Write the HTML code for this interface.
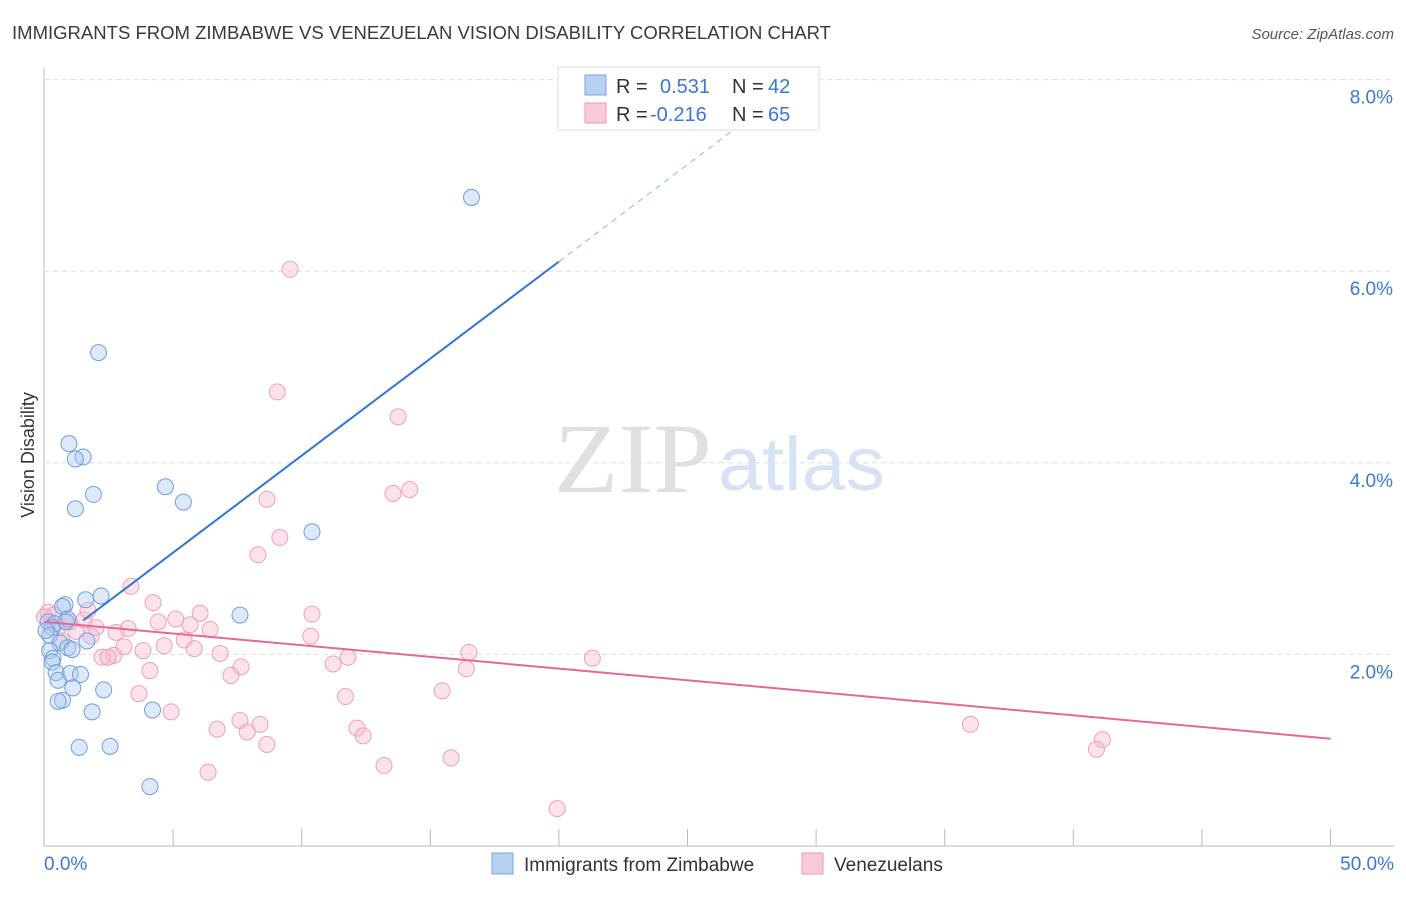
<!DOCTYPE html>
<html><head><meta charset="utf-8"><style>
body{margin:0;background:#fff;font-family:"Liberation Sans",sans-serif;}
svg text{font-family:"Liberation Sans",sans-serif;}
</style></head><body>
<svg id="c" width="1406" height="892" xmlns="http://www.w3.org/2000/svg">
<text x="12" y="39" font-size="18" fill="#3a3a3a" textLength="819" lengthAdjust="spacingAndGlyphs">IMMIGRANTS FROM ZIMBABWE VS VENEZUELAN VISION DISABILITY CORRELATION CHART</text>
<text x="1394" y="39" font-size="15" fill="#555" font-style="italic" text-anchor="end">Source: ZipAtlas.com</text>
<text x="712" y="492" font-size="100" fill="#e0e0e0" style="font-family:'Liberation Serif',serif" text-anchor="end" textLength="158" lengthAdjust="spacingAndGlyphs">ZIP</text>
<text x="718" y="490" font-size="76" fill="#d6e3f5" textLength="167" lengthAdjust="spacingAndGlyphs">atlas</text>
<text x="34" y="455" font-size="18" fill="#333" transform="rotate(-90 34 455)" text-anchor="middle">Vision Disability</text>
<g id="grid"></g><g id="pts"></g><g id="lines"></g>
<g>
<rect x="558" y="67" width="261" height="63" fill="#fff" stroke="#ddd"/>
<rect x="585" y="75" width="21" height="20" fill="#b7d1f3" stroke="#7aa7e0"/>
<rect x="585" y="103" width="21" height="20" fill="#fac9d7" stroke="#ee9ab3"/>
<text x="616" y="93" font-size="20" fill="#333">R =</text><text x="660" y="93" font-size="20" fill="#3b78d6">0.531</text>
<text x="732" y="93" font-size="20" fill="#333">N =</text><text x="768" y="93" font-size="20" fill="#3b78d6">42</text>
<text x="616" y="121" font-size="20" fill="#333">R =</text><text x="650" y="121" font-size="20" fill="#3b78d6">-0.216</text>
<text x="732" y="121" font-size="20" fill="#333">N =</text><text x="768" y="121" font-size="20" fill="#3b78d6">65</text>
</g>
<g>
<rect x="492" y="853" width="21" height="21" fill="#b7d1f3" stroke="#7aa7e0"/>
<text x="524" y="871" font-size="19" fill="#333">Immigrants from Zimbabwe</text>
<rect x="802" y="853" width="21" height="21" fill="#fac9d7" stroke="#ee9ab3"/>
<text x="834" y="871" font-size="19" fill="#333">Venezuelans</text>
</g>
</svg>
<script>
const yTicks=[2,4,6,8];
const xTickLabels=["0.0%","50.0%"];
const blueX=[16.6,2.1,0.95,1.5,1.2,1.9,4.7,5.4,1.2,10.4,2.2,1.6,0.8,0.7,7.6,0.9,0.14,0.4,0.3,0.2,1.65,0.6,0.9,1.07,0.2,0.33,0.3,0.45,1.0,1.4,0.53,1.1,2.3,0.7,0.53,1.85,4.2,1.35,2.55,4.1,0.06,0.84];
const blueY=[6.77,5.15,4.2,4.06,4.04,3.67,3.75,3.59,3.52,3.28,2.61,2.57,2.52,2.5,2.41,2.37,2.34,2.32,2.28,2.2,2.14,2.12,2.07,2.05,2.04,1.96,1.92,1.81,1.8,1.79,1.73,1.65,1.63,1.52,1.51,1.4,1.42,1.03,1.04,0.62,2.25,2.34];
const pinkX=[9.55,9.05,13.75,13.55,14.2,8.65,9.15,8.3,3.36,4.22,6.05,10.4,5.1,4.42,5.66,6.44,2.0,3.25,2.78,0.14,0.52,1.22,1.81,10.35,5.43,4.65,5.82,3.09,3.83,6.83,2.7,2.24,2.47,11.8,16.5,11.22,7.64,4.1,16.4,7.25,21.3,3.67,11.7,15.46,7.6,8.38,6.71,12.15,12.39,7.88,4.92,8.65,36.0,41.13,40.9,15.81,13.2,6.36,19.93,0.68,0.99,0.37,1.54,1.69,0];
const pinkY=[6.02,4.74,4.48,3.68,3.72,3.62,3.22,3.04,2.71,2.54,2.43,2.42,2.37,2.34,2.31,2.26,2.28,2.27,2.23,2.44,2.28,2.24,2.19,2.19,2.15,2.09,2.06,2.08,2.04,2.01,1.99,1.97,1.97,1.97,2.02,1.9,1.87,1.83,1.85,1.78,1.96,1.59,1.56,1.62,1.31,1.27,1.22,1.23,1.15,1.19,1.4,1.06,1.27,1.11,1.01,0.92,0.84,0.77,0.39,2.14,2.34,2.41,2.36,2.46,2.39];
const blueFit=[2.05,0.2025], pinkFit=[2.34,-0.0244];
const X=v=>44.5+v*25.72, Y=v=>846-v*95.8;
const NS="http://www.w3.org/2000/svg";
function mk(t,a,p){const e=document.createElementNS(NS,t);for(const k in a)e.setAttribute(k,a[k]);p.appendChild(e);return e;}
const g=document.getElementById('grid');
let ax=mk('line',{x1:44,y1:68,x2:44,y2:846,stroke:'#bbb'},g);


let bx=mk('line',{x1:44,y1:846,x2:1394,y2:846,stroke:'#bbb'},g);


yTicks.forEach(t=>{
 const l=mk('line',{x1:44,x2:1394,y1:Y(t),y2:Y(t),stroke:'#ddd','stroke-dasharray':'5,4'},g);
 
 
 const tx=mk('text',{x:1393,y:Y(t)+24,'font-size':19,fill:'#3b78d6','text-anchor':'end'},g);tx.textContent=t.toFixed(1)+'%';
 
 
});
for(let i=1;i<=10;i++){const l=mk('line',{x1:X(i*5),x2:X(i*5),y1:829,y2:846,stroke:'#bbb'},g);
 
 }
[[0,'start',44],[50,'end',1394]].forEach((d,i)=>{const tx=mk('text',{x:d[2],y:870,'font-size':19,fill:'#3b78d6','text-anchor':d[1]},g);tx.textContent=xTickLabels[i];
 
 });
const p=document.getElementById('pts');
pinkX.forEach((x,i)=>{const c=mk('circle',{cx:X(x),cy:Y(pinkY[i]),r:8,fill:'rgba(248,184,205,0.4)',stroke:'#eea0b8','stroke-width':1},p);
 
 });
blueX.forEach((x,i)=>{const c=mk('circle',{cx:X(x),cy:Y(blueY[i]),r:8,fill:'rgba(170,200,240,0.4)',stroke:'#6f9fdc','stroke-width':1},p);
 
 });
const L=document.getElementById('lines');
const bf=x=>blueFit[0]+blueFit[1]*x, pf=x=>pinkFit[0]+pinkFit[1]*x;
let b1=mk('line',{x1:X(1.5),y1:Y(bf(1.5)),x2:X(20),y2:Y(bf(20)),stroke:'#2f74d6','stroke-width':2},L);


let b2=mk('line',{x1:X(20),y1:Y(bf(20)),x2:X(27.5),y2:Y(bf(27.5)),stroke:'#8fb3e6','stroke-width':1,'stroke-dasharray':'6,5'},L);


let p1=mk('line',{x1:X(0),y1:Y(pf(0)),x2:X(50),y2:Y(pf(50)),stroke:'#e4689a','stroke-width':2},L);


</script>
</body></html>
